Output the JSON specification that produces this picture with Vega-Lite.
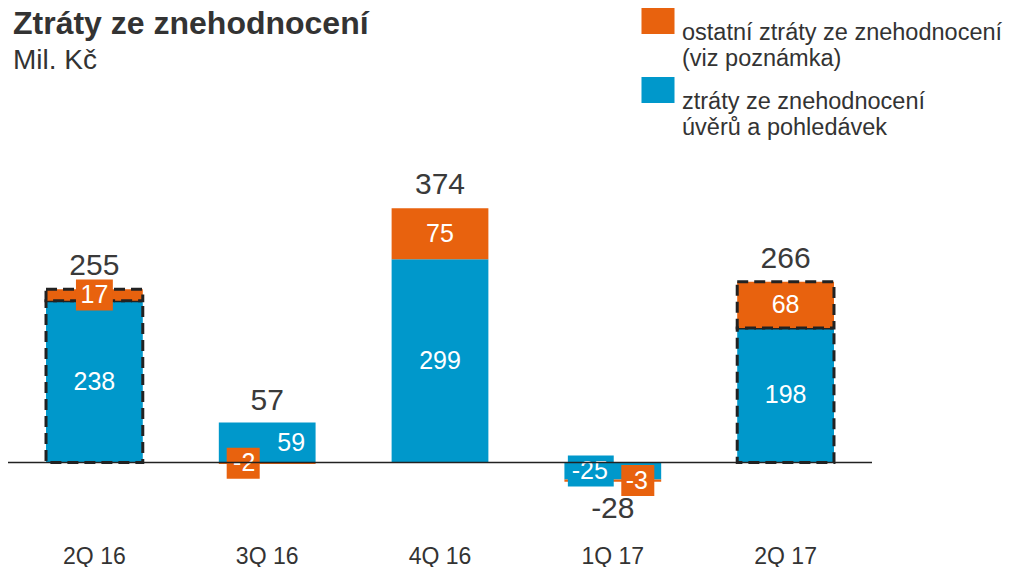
{
  "$schema": "https://vega.github.io/schema/vega-lite/v6.json",
  "width": 864,
  "height": 340,
  "autosize": "none",
  "padding": {"left": 8, "top": 177, "right": 141, "bottom": 50},
  "background": "white",
  "config": {
    "font": "Liberation Sans",
    "view": {"stroke": null},
    "axisX": {"domain": false, "ticks": false, "grid": false, "labelFontSize": 23, "labelColor": "#333333", "labelPadding": 28, "labelAngle": 0, "labelFont": "Liberation Sans"}
  },
  "title": {
    "text": "Ztráty ze znehodnocení",
    "subtitle": "Mil. Kč",
    "anchor": "start",
    "frame": "group",
    "orient": "top",
    "offset": -68,
    "dx": 5,
    "font": "Liberation Sans",
    "fontSize": 32,
    "fontWeight": "bold",
    "color": "#333333",
    "subtitleFont": "Liberation Sans",
    "subtitleFontSize": 28,
    "subtitleColor": "#333333",
    "subtitlePadding": 6
  },
  "datasets": {
    "main": [
      {"quarter": "2Q 16", "typ": "ztráty ze znehodnocení úvěrů a pohledávek", "value": 238},
      {"quarter": "2Q 16", "typ": "ostatní ztráty ze znehodnocení (viz poznámka)", "value": 17},
      {"quarter": "3Q 16", "typ": "ztráty ze znehodnocení úvěrů a pohledávek", "value": 59},
      {"quarter": "3Q 16", "typ": "ostatní ztráty ze znehodnocení (viz poznámka)", "value": -2},
      {"quarter": "4Q 16", "typ": "ztráty ze znehodnocení úvěrů a pohledávek", "value": 299},
      {"quarter": "4Q 16", "typ": "ostatní ztráty ze znehodnocení (viz poznámka)", "value": 75},
      {"quarter": "1Q 17", "typ": "ztráty ze znehodnocení úvěrů a pohledávek", "value": -25},
      {"quarter": "1Q 17", "typ": "ostatní ztráty ze znehodnocení (viz poznámka)", "value": -3},
      {"quarter": "2Q 17", "typ": "ztráty ze znehodnocení úvěrů a pohledávek", "value": 198},
      {"quarter": "2Q 17", "typ": "ostatní ztráty ze znehodnocení (viz poznámka)", "value": 68}
    ],
    "totals": [
      {"quarter": "2Q 16", "total": 255},
      {"quarter": "3Q 16", "total": 57},
      {"quarter": "4Q 16", "total": 374},
      {"quarter": "1Q 17", "total": -28},
      {"quarter": "2Q 17", "total": 266}
    ]
  },
  "layer": [
    {
      "data": {"name": "main"},
      "transform": [
        {"stack": "value", "groupby": ["quarter"], "sort": [{"field": "typ", "order": "descending"}], "as": ["v0", "v1"]},
        {"calculate": "(datum.v0 + datum.v1) / 2", "as": "mid"}
      ],
      "encoding": {
        "x": {"field": "quarter", "type": "nominal", "sort": ["2Q 16", "3Q 16", "4Q 16", "1Q 17", "2Q 17"], "title": null, "scale": {"type": "band", "paddingInner": 0.44, "paddingOuter": 0.22}}
      },
      "layer": [
        {
          "mark": {"type": "bar", "strokeDash": [11, 6], "strokeWidth": 3},
          "encoding": {
            "y": {"field": "v0", "type": "quantitative", "scale": {"domain": [-80, 420], "nice": false, "zero": false}, "axis": null},
            "y2": {"field": "v1"},
            "color": {
              "field": "typ", "type": "nominal",
              "scale": {"domain": ["ostatní ztráty ze znehodnocení (viz poznámka)", "ztráty ze znehodnocení úvěrů a pohledávek"], "range": ["#E8620E", "#0098CB"]},
              "legend": {
                "title": null, "orient": "none", "legendX": 637, "legendY": -169, "padding": 0,
                "symbolType": "M-1.27,-1H1.27V1H-1.27Z", "symbolSize": 676, "symbolStrokeWidth": 0, "symbolOpacity": 1,
                "labelFontSize": 23.5, "labelColor": "#333333", "labelFont": "Liberation Sans", "labelLimit": 0, "labelOffset": 11,
                "rowPadding": 7, "labelBaseline": "top",
                "labelExpr": "datum.label[0] == 'o' ? ['ostatní ztráty ze znehodnocení', '(viz poznámka)'] : ['ztráty ze znehodnocení', 'úvěrů a pohledávek']",
                "encode": {"labels": {"update": {"lineHeight": {"value": 27}, "dy": {"value": -11}}}}
              }
            },
            "stroke": {"condition": {"test": "datum.quarter == '2Q 16' || datum.quarter == '2Q 17'", "value": "#222222"}, "value": null}
          }
        },
        {
          "transform": [{"filter": "datum.quarter == '2Q 16' && datum.value < 30"}],
          "mark": {"type": "point", "filled": true, "opacity": 1, "strokeWidth": 0, "shape": "M-1.19,-1H1.19V1H-1.19Z", "size": 961},
          "encoding": {"y": {"field": "mid", "type": "quantitative"}, "color": {"field": "typ", "type": "nominal"}}
        },
        {
          "transform": [{"filter": "datum.quarter == '3Q 16' && datum.value < 0"}],
          "mark": {"type": "point", "filled": true, "opacity": 1, "strokeWidth": 0, "shape": "M-1.065,-1H1.065V1H-1.065Z", "size": 961, "xOffset": -24},
          "encoding": {"y": {"field": "mid", "type": "quantitative"}, "color": {"field": "typ", "type": "nominal"}}
        },
        {
          "transform": [{"filter": "datum.quarter == '1Q 17' && datum.value == -25"}],
          "mark": {"type": "point", "filled": true, "opacity": 1, "strokeWidth": 0, "shape": "M-1.48,-1H1.48V1H-1.48Z", "size": 961, "xOffset": -22},
          "encoding": {"y": {"field": "mid", "type": "quantitative"}, "color": {"field": "typ", "type": "nominal"}}
        },
        {
          "transform": [{"filter": "datum.quarter == '1Q 17' && datum.value == -3"}],
          "mark": {"type": "point", "filled": true, "opacity": 1, "strokeWidth": 0, "shape": "M-1.065,-1H1.065V1H-1.065Z", "size": 961, "xOffset": 25},
          "encoding": {"y": {"field": "mid", "type": "quantitative"}, "color": {"field": "typ", "type": "nominal"}}
        },
        {
          "transform": [{"filter": "!((datum.quarter == '3Q 16') || (datum.quarter == '1Q 17'))"}],
          "mark": {"type": "text", "fill": "white", "fontSize": 25, "baseline": "middle", "font": "Liberation Sans"},
          "encoding": {"y": {"field": "mid", "type": "quantitative"}, "text": {"field": "value", "type": "nominal"}}
        },
        {
          "transform": [{"filter": "(datum.quarter == '3Q 16' && datum.value < 0) || (datum.quarter == '1Q 17' && datum.value == -25)"}],
          "mark": {"type": "text", "fill": "white", "fontSize": 25, "baseline": "middle", "font": "Liberation Sans", "xOffset": -23},
          "encoding": {"y": {"field": "mid", "type": "quantitative"}, "text": {"field": "value", "type": "nominal"}}
        },
        {
          "transform": [{"filter": "(datum.quarter == '3Q 16' && datum.value > 0) || (datum.quarter == '1Q 17' && datum.value == -3)"}],
          "mark": {"type": "text", "fill": "white", "fontSize": 25, "baseline": "middle", "font": "Liberation Sans", "xOffset": 24},
          "encoding": {"y": {"field": "mid", "type": "quantitative"}, "text": {"field": "value", "type": "nominal"}}
        }
      ]
    },
    {
      "data": {"values": [{}]},
      "mark": {"type": "rule", "color": "#222222", "strokeWidth": 1.5},
      "encoding": {"y": {"datum": 0, "type": "quantitative"}}
    },
    {
      "data": {"name": "totals"},
      "encoding": {
        "x": {"field": "quarter", "type": "nominal", "sort": ["2Q 16", "3Q 16", "4Q 16", "1Q 17", "2Q 17"], "title": null},
        "y": {"field": "total", "type": "quantitative"},
        "text": {"field": "total", "type": "nominal"}
      },
      "layer": [
        {
          "transform": [{"filter": "datum.total >= 0"}],
          "mark": {"type": "text", "fill": "#3a3a3a", "fontSize": 30, "baseline": "bottom", "dy": -8, "font": "Liberation Sans"}
        },
        {
          "transform": [{"filter": "datum.total < 0"}],
          "mark": {"type": "text", "fill": "#3a3a3a", "fontSize": 30, "baseline": "top", "dy": 12, "font": "Liberation Sans"}
        }
      ]
    }
  ]
}
